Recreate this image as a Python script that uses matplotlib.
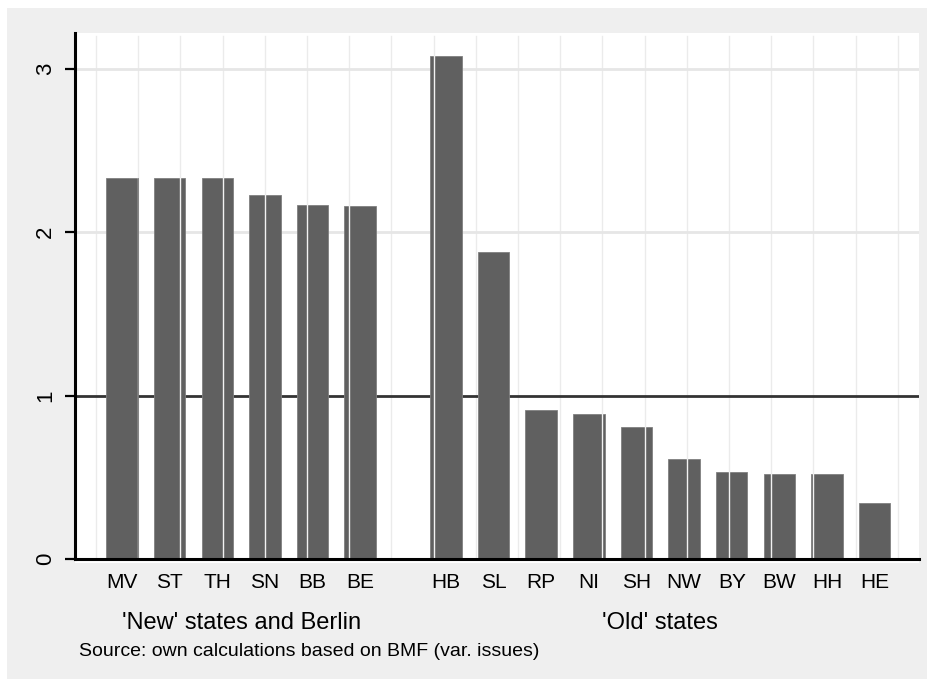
import numpy as np
import matplotlib
matplotlib.use("Agg")
import matplotlib.pyplot as plt
import matplotlib.transforms as mtransforms
from matplotlib.patches import Rectangle
from matplotlib.path import Path

plt.rcParams["font.family"] = ["Liberation Sans", "DejaVu Sans"]

# --- data ---
new_states = ["MV", "ST", "TH", "SN", "BB", "BE"]
new_values = [2.33, 2.33, 2.33, 2.23, 2.17, 2.16]
old_states = ["HB", "SL", "RP", "NI", "SH", "NW", "BY", "BW", "HH", "HE"]
old_values = [3.08, 1.88, 0.91, 0.89, 0.81, 0.61, 0.53, 0.52, 0.52, 0.34]
group_labels = ["'New' states and Berlin", "'Old' states"]
y_ticks = [0, 1, 2, 3]
source_note = "Source: own calculations based on BMF (var. issues)"

bar_color = "#606060"
gap = 0.8  # extra space between the two groups

x_new = np.arange(len(new_states))
x_old = np.arange(len(old_states)) + len(new_states) + gap
x_all = np.concatenate([x_new, x_old])
labels_all = new_states + old_states
values_all = new_values + old_values

fig = plt.figure(figsize=(9.28, 6.79), dpi=100)
fig.patch.set_facecolor("white")
# light grey graph region (Stata style), thin white margin top/left
fig.patches.append(Rectangle((7 / 928, 0), 1.1, (679 - 8) / 679,
                             transform=fig.transFigure, facecolor="#efefef",
                             edgecolor="none", zorder=-5))

ax = fig.add_axes([75 / 928, 1 - 563 / 679, (919 - 75) / 928, (563 - 33) / 679])
ax.set_facecolor("white")

xmin, xmax = -0.986, 16.73
ax.set_xlim(xmin, xmax)
ax.set_ylim(-0.0245, 3.22)

# horizontal grid
for v in y_ticks[2:]:
    ax.axhline(v, color="#e6e6e6", lw=2, zorder=0.5)
# reference line at 1
ax.axhline(1, color="#333333", lw=2.0, zorder=1)

bars = ax.bar(x_all, values_all, width=0.66, color=bar_color,
              edgecolor="#808080", linewidth=0.6, zorder=2)

# vertical grid: light grey behind, and a lighter copy showing through the bars
bar_paths = [b.get_path().transformed(b.get_patch_transform()) for b in bars]
bar_clip = Path.make_compound_path(*bar_paths)
for k in range(20):
    xv = xmin + (k + 0.5) / 20 * (xmax - xmin)
    ax.axvline(xv, ymin=0.01, ymax=0.995, color="#ebebeb", lw=1, zorder=0.4)
    over = ax.axvline(xv, color="#f2f2f2", lw=1, zorder=2.5)
    over.set_clip_path(bar_clip, ax.transData)

# spines
for s in ["top", "right"]:
    ax.spines[s].set_visible(False)
ax.spines["bottom"].set_position(("data", 0))
ax.spines["bottom"].set_linewidth(2.2)
ax.spines["bottom"].set_zorder(4)
ax.spines["left"].set_linewidth(2.2)
ax.spines["left"].set_bounds(0, 3.22)
ax.spines["left"].set_zorder(4)

ax.set_yticks(y_ticks)
ax.set_yticklabels([str(t) for t in y_ticks], rotation=90, va="center",
                   fontsize=16)
ax.tick_params(axis="y", length=7.5, width=1.6, pad=6)

ax.set_xticks(x_all)
ax.set_xticklabels(labels_all, fontsize=15)
ax.tick_params(axis="x", length=0, pad=10)

# group labels
trans = mtransforms.blended_transform_factory(ax.transData, fig.transFigure)
ax.text(x_new.mean(), 1 - 623 / 679, group_labels[0], transform=trans,
        ha="center", va="center", fontsize=17)
ax.text(x_old.mean(), 1 - 623 / 679, group_labels[1], transform=trans,
        ha="center", va="center", fontsize=17)

fig.text(79 / 928, 1 - 652 / 679, source_note, ha="left", va="center",
         fontsize=14)

fig.savefig("out.png", dpi=100)
